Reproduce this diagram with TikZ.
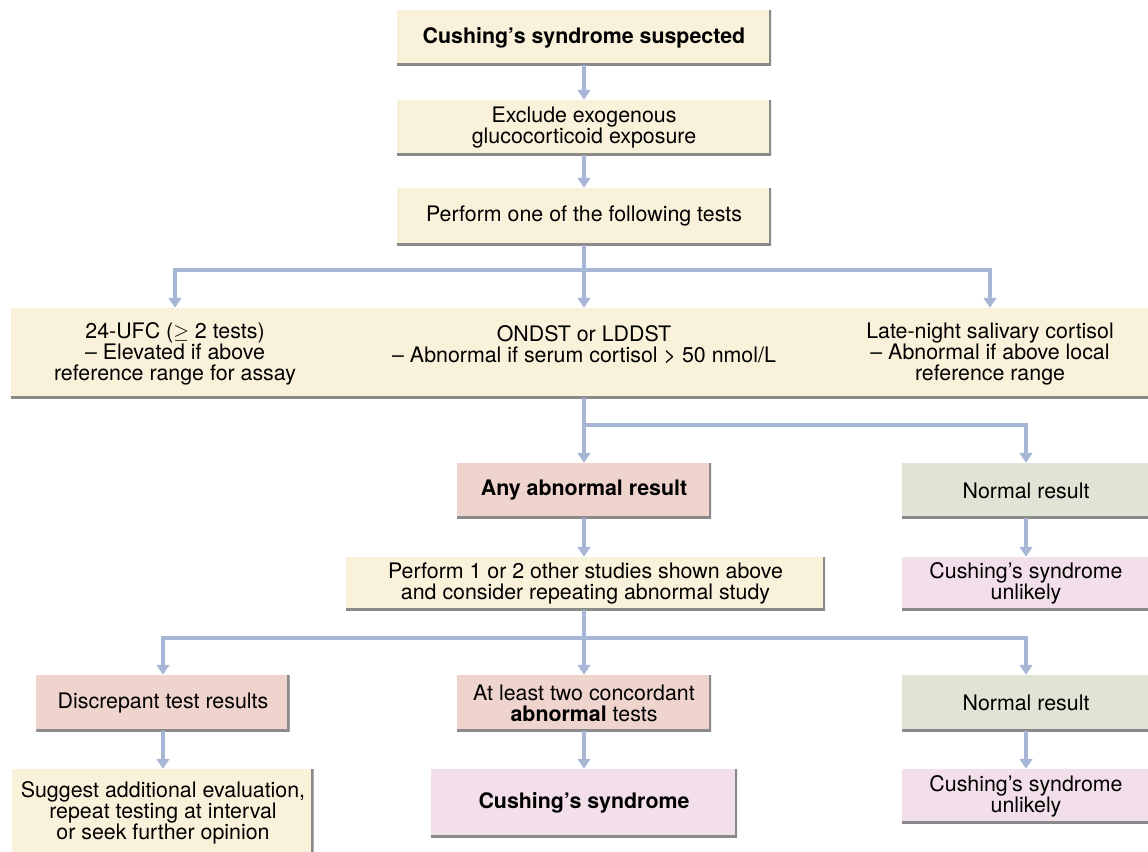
\documentclass[tikz,border=0pt]{standalone}
\usepackage{fontspec}
\setmainfont{TeX Gyre Heros}
\usepackage{tikz}
\usetikzlibrary{arrows.meta,positioning}
\definecolor{creamFill}{HTML}{F9F1DA}
\definecolor{salmonFill}{HTML}{EFD3CD}
\definecolor{greenFill}{HTML}{DFE4D4}
\definecolor{pinkFill}{HTML}{F2DFE9}
\definecolor{arrowBlue}{HTML}{A8B6D6}
\definecolor{shadowGray}{HTML}{8A8A8A}

\begin{document}
\begin{tikzpicture}[
      x=0.025cm, y=-0.025cm,
      font=\fontsize{15.2}{15}\selectfont,
      box/.style={rectangle, inner sep=0pt, align=center,
                  path picture={\draw[shadowGray, line width=3.2pt]
                    (path picture bounding box.south west) --
                    (path picture bounding box.south east) --
                    (path picture bounding box.north east);}},
      txt/.style={inner sep=0pt, align=center},
      arr/.style={draw=arrowBlue, line width=2.8pt, -{Triangle[width=9pt,length=7pt]}},
      >=Latex
    ]
    \clip (0,0) rectangle (1148,852);

    \node[box, fill=creamFill, minimum width=9.35cm, minimum height=1.375cm] (sus) at (584,37.5) {\textbf{Cushing's syndrome suspected}};
    \node[box, fill=creamFill, minimum width=9.35cm, minimum height=1.375cm] (excl) at (584,127.5) {Exclude exogenous\\glucocorticoid exposure};
    \node[box, fill=creamFill, minimum width=9.35cm, minimum height=1.425cm] (perf) at (584,216.5) {Perform one of the following tests};

    \node[box, fill=creamFill, minimum width=28.55cm, minimum height=2.25cm] (tests) at (582,353) {};
    \node[txt] (ufc) at (175,354) {24-UFC ($\geq$ 2 tests)\\-- Elevated if above\\reference range for assay};
    \node[txt, anchor=north] (dst) at (584,325) {ONDST or LDDST\\-- Abnormal if serum cortisol > 50 nmol/L};
    \node[txt] (lnsc) at (990,354) {Late-night salivary cortisol\\-- Abnormal if above local\\reference range};

    \node[box, fill=salmonFill, minimum width=6.35cm, minimum height=1.375cm] (abn) at (584,490.5) {\textbf{Any abnormal result}};
    \node[box, fill=greenFill, minimum width=6.2cm, minimum height=1.375cm] (norm) at (1026,490.5) {Normal result};

    \node[box, fill=creamFill, minimum width=11.975cm, minimum height=1.325cm] (stud) at (585.5,583.5) {Perform 1 or 2 other studies shown above\\and consider repeating abnormal study};
    \node[box, fill=pinkFill, minimum width=6.2cm, minimum height=1.325cm] (unl) at (1026,583.5) {Cushing's syndrome\\unlikely};

    \node[box, fill=salmonFill, minimum width=6.325cm, minimum height=1.4cm] (disc) at (163,703) {Discrepant test results};
    \node[box, fill=salmonFill, minimum width=6.35cm, minimum height=1.4cm] (conc) at (584,703) {At least two concordant\\\textbf{abnormal} tests};
    \node[box, fill=greenFill, minimum width=6.2cm, minimum height=1.4cm] (normb) at (1026,703) {Normal result};

    \node[box, fill=creamFill, minimum width=7.525cm, minimum height=2.2cm] (sugg) at (163,813) {Suggest additional evaluation,\\repeat testing at interval\\or seek further opinion};
    \node[box, fill=pinkFill, minimum width=7.65cm, minimum height=1.7cm] (cush) at (584,803) {\textbf{Cushing's syndrome}};
    \node[box, fill=pinkFill, minimum width=6.2cm, minimum height=1.35cm] (unlb) at (1026,796) {Cushing's syndrome\\unlikely};

    \coordinate (br1) at (584,270);
    \coordinate (br2) at (584,425);
    \coordinate (br3) at (584,638);

    \draw[arr] (sus) -- (excl);
    \draw[arr] (excl) -- (perf);
    \draw[arr] (perf) -- (dst |- tests.north);
    \draw[arr] (br1) -| (ufc |- tests.north);
    \draw[arr] (br1) -| (lnsc |- tests.north);
    \draw[arr] (dst |- tests.south) -- (abn);
    \draw[arr] (br2) -| (norm);
    \draw[arr] (abn) -- (stud.north -| abn);
    \draw[arr] (norm) -- (unl);
    \draw[arr] (stud.south -| abn) -- (conc);
    \draw[arr] (br3) -| (disc);
    \draw[arr] (br3) -| (normb);
    \draw[arr] (disc) -- (sugg);
    \draw[arr] (conc) -- (cush);
    \draw[arr] (normb) -- (unlb);
  \end{tikzpicture}
\end{document}
